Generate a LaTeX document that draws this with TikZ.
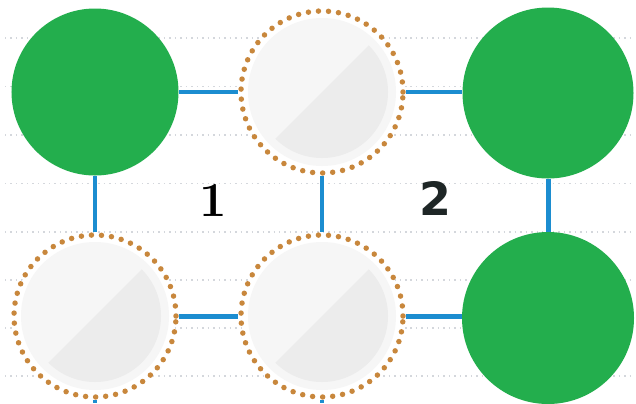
\documentclass[tikz,border=0pt]{standalone}
\usepackage{fontspec}
\newfontfamily\heavysans{DejaVu Sans}
\definecolor{nodegreen}{RGB}{35,174,77}
\definecolor{linkblue}{RGB}{28,141,208}
\definecolor{dotbrown}{RGB}{200,135,60}
\definecolor{gridgray}{RGB}{212,215,220}
\definecolor{innerlight}{RGB}{246,246,246}
\definecolor{innerdark}{RGB}{236,236,236}
\definecolor{labeldark}{RGB}{30,38,38}
\pgfdeclarelayer{gridlayer}
\pgfdeclarelayer{linklayer}
\pgfsetlayers{gridlayer,linklayer,main}
\tikzset{
  greennode/.style={circle, fill=nodegreen, inner sep=0pt, minimum size=#1},
  dotnode/.style={circle, inner sep=0pt, minimum size=162bp, fill=white,
    draw=dotbrown, line width=5.5pt, line cap=round, dash pattern=on 0pt off 10.1pt,
    path picture={
      \fill[innerlight] (path picture bounding box.center) circle[radius=74];
      \fill[innerdark] (path picture bounding box.center) ++(-45:66)
        arc[start angle=-45, end angle=135, radius=66] -- cycle;
    }},
  link/.style={draw=linkblue, line width=5pt},
  gridline/.style={draw=gridgray, line width=1.3pt, dash pattern=on 1.5pt off 4pt},
  serifnum/.style={font=\fontsize{49}{49}\selectfont\bfseries, text=black, inner sep=0pt},
  sansnum/.style={font=\heavysans\fontsize{46}{46}\selectfont\bfseries, text=labeldark, inner sep=0pt},
}
\begin{document}
\begin{tikzpicture}[x=1bp, y=-1bp]
\useasboundingbox (0,0) rectangle (636,403);
% nodes
\node[greennode=167bp] (g1) at (95,92) {};
\node[dotnode] (d1) at (322,92) {};
\node[greennode=171bp] (g2) at (548,93) {};
\node[dotnode] (d2) at (95,316) {};
\node[dotnode] (d3) at (322,316) {};
\node[greennode=172bp] (g3) at (548,318) {};
\node[serifnum] (l1) at (213,200) {1};
\node[sansnum] (l2) at (435,198) {2};
\coordinate (s2) at (95,403);
\coordinate (s3) at (322,403);
% background and dotted lines
\begin{pgfonlayer}{gridlayer}
  \fill[white] (0,0) rectangle (636,403);
  \foreach \yy in {38,86.5,135,183.5,232,280,328,376}
    \draw[gridline] (5,\yy) -- (632,\yy);
\end{pgfonlayer}
% connectors
\begin{pgfonlayer}{linklayer}
  \draw[link] (g1) -- (d1);
  \draw[link] (d1) -- (g2.west |- d1);
  \draw[link] (g1) -- (d2);
  \draw[link] (d1) -- (d3);
  \draw[link] (g2) -- (g3);
  \draw[link] (d2) -- (d3);
  \draw[link] (d3) -- (g3.west |- d3);
  \draw[link] (d2) -- (s2);
  \draw[link] (d3) -- (s3);
\end{pgfonlayer}
\end{tikzpicture}
\end{document}
